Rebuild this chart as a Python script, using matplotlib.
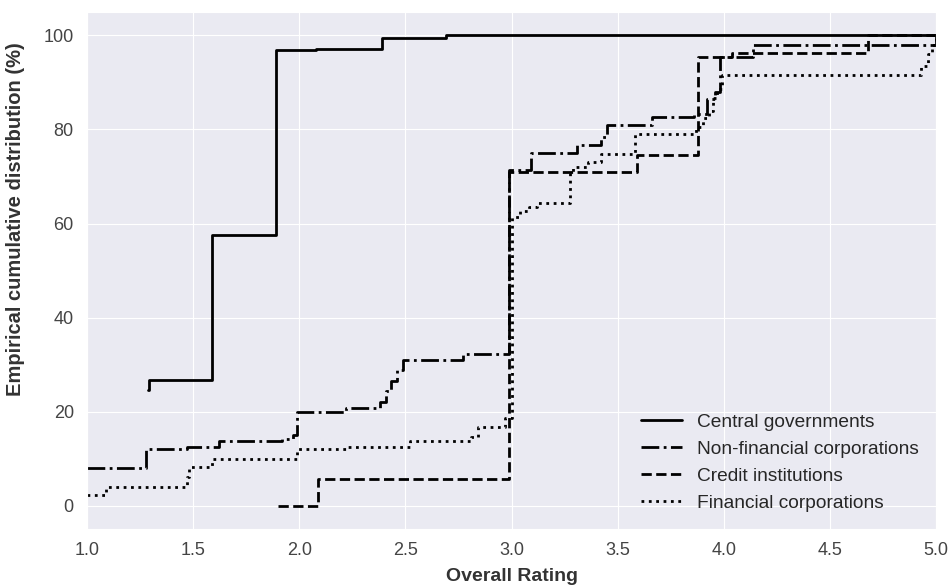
import numpy as np
import matplotlib
matplotlib.use("Agg")
import matplotlib.pyplot as plt
import seaborn as sns

# step points (rating, cumulative %)
central_x = [1.285, 1.29, 1.59, 1.89, 2.08, 2.39, 2.69, 5.0]
central_y = [24.6, 26.7, 57.5, 97.0, 97.2, 99.4, 100.0, 100.0]

nonfin_x = [1.0, 1.28, 1.47, 1.62, 1.92, 1.97, 1.99, 2.22, 2.38, 2.41, 2.43, 2.46, 2.49,
            2.77, 2.99, 3.09, 3.31, 3.42, 3.45, 3.66, 3.86, 3.92, 3.96, 3.98, 4.14, 5.0, 5.0]
nonfin_y = [7.9, 12.0, 12.5, 13.7, 14.2, 14.9, 19.8, 20.7, 22.0, 24.3, 26.4, 28.9, 31.0,
            32.2, 71.3, 74.9, 76.6, 78.5, 81.0, 82.7, 83.4, 86.4, 88.0, 95.4, 97.9, 97.9, 100.0]

credit_x = [1.90, 2.09, 2.99, 3.59, 3.88, 4.04, 4.68, 5.0]
credit_y = [0.0, 5.7, 71.0, 74.5, 95.4, 96.2, 100.0, 100.0]

fin_x = [1.0, 1.09, 1.47, 1.48, 1.59, 1.99, 2.22, 2.52, 2.81, 2.84, 2.97, 3.0, 3.04, 3.08,
         3.12, 3.275, 3.29, 3.36, 3.42, 3.58, 3.87, 3.90, 3.93, 3.95, 3.97, 3.99, 4.93,
         4.96, 4.98, 5.0]
fin_y = [2.3, 3.9, 6.1, 8.2, 10.0, 12.0, 12.5, 13.7, 14.5, 16.8, 18.6, 61.4, 62.6, 63.6,
         64.3, 71.0, 72.0, 73.0, 74.7, 79.1, 80.5, 82.5, 84.0, 86.6, 88.7, 91.5, 93.5,
         96.0, 98.0, 100.0]

labels = ["Central governments", "Non-financial corporations",
          "Credit institutions", "Financial corporations"]

sns.set_style("darkgrid", {"grid.linewidth": 1.5})
plt.rcParams['font.family'] = ['Liberation Sans', 'DejaVu Sans']

fig = plt.figure(figsize=(9.5, 5.85), dpi=100)
ax = fig.add_axes([0.0916, 0.0957, 0.8937, 0.8838])

ax.step(central_x, central_y, where='post', color='black', lw=2, ls='-', label=labels[0])
ax.step(nonfin_x, nonfin_y, where='post', color='black', lw=2, ls='-.', label=labels[1])
ax.step(credit_x, credit_y, where='post', color='black', lw=2, ls='--', label=labels[2])
ax.step(fin_x, fin_y, where='post', color='black', lw=2, ls=':', label=labels[3])

ax.set_xlim(1.0, 5.0)
ax.set_ylim(-5, 105)
ax.set_yticks([0, 20, 40, 60, 80, 100])
ax.tick_params(labelsize=13, colors='#444444', pad=6)
ax.set_xlabel("Overall Rating", fontsize=14, fontweight='bold', color='#333333')
ax.set_ylabel("Empirical cumulative distribution (%)", fontsize=14.5, fontweight='bold',
              color='#333333')
ax.yaxis.set_label_coords(-0.073, 0.6)
ax.xaxis.set_label_coords(0.5, -0.075)
ax.legend(loc='lower right', fontsize=13.8, frameon=False, labelspacing=0.5,
          handlelength=2.1, handletextpad=0.8, borderaxespad=0.5)

fig.savefig("out.png", dpi=100)
